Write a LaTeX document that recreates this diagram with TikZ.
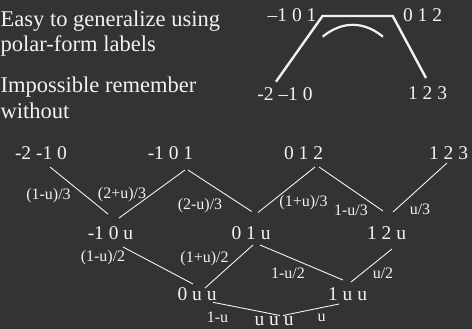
\documentclass[tikz,border=0pt]{standalone}
\usepackage{fontspec}
\setmainfont{Liberation Serif}
\usetikzlibrary{calc}
\definecolor{slidebg}{HTML}{333333}
\definecolor{slidefg}{HTML}{F2F2F2}

\begin{document}
\begin{tikzpicture}[x=1pt,y=-1pt,
  every node/.style={text=slidefg,inner sep=0pt},
  bullet/.style={anchor=base west,font=\fontsize{22.5}{25}\selectfont},
  ptlabel/.style={anchor=base,font=\fontsize{19.5}{22}\selectfont},
  wtlabel/.style={anchor=base,font=\fontsize{16}{18}\selectfont},
  branch/.style={draw=slidefg,line width=0.9pt},
  poly/.style={draw=slidefg,line width=2.4pt}]
  \path[use as bounding box,fill=slidebg] (0,0) rectangle (472,329);

  % Bullet text
  \node[bullet] (t1) at (0.5,26.7) {Easy to generalize using};
  \node[bullet] (t2) at (0.5,51.7) {polar-form labels};
  \node[bullet] (t3) at (0.5,93) {Impossible remember};
  \node[bullet] (t4) at (0.5,118) {without};

  % Polar-form sketch
  \node[ptlabel] (q101) at (292,22) {\textendash1 0 1};
  \node[ptlabel] (q012) at (422.5,22) {0 1 2};
  \node[ptlabel] (q210) at (285,100.5) {-2 \textendash1 0};
  \node[ptlabel] (q123) at (427.5,100) {1 2 3};
  \coordinate (c0) at (276,81.7);
  \coordinate (c1) at (322.5,16);
  \coordinate (c2) at (392.7,16);
  \coordinate (c3) at (426,78);
  \draw[poly,line join=miter] (c0) -- (c1) -- (c2) -- (c3);
  \draw[poly,line width=2.2pt] (322.7,36.7) .. controls (338,24) and (360,18) .. (383,36.7);

  % Level 0
  \node[ptlabel] (p210) at (41,160) {-2 -1 0};
  \node[ptlabel] (p101) at (170.5,160) {-1 0 1};
  \node[ptlabel] (p012) at (303.5,160) {0 1 2};
  \node[ptlabel] (p123) at (448.5,160) {1 2 3};

  % Level 1
  \node[ptlabel] (p10u) at (110.5,240) {-1 0 u};
  \node[ptlabel] (p01u) at (251,239.5) {0 1 u};
  \node[ptlabel] (p12u) at (386.5,240) {1 2 u};
  \draw[branch] ($(p210.base)+(9,7)$) -- ($(p10u.base)+(-2.5,-26)$);
  \draw[branch] ($(p101.base)+(14.5,10)$) -- ($(p10u.base)+(8.5,-22)$);
  \draw[branch] ($(p101.base)+(17.5,10)$) -- ($(p01u.base)+(0.7,-28)$);
  \draw[branch] ($(p012.base)+(11.5,7)$) -- ($(p01u.base)+(7,-27)$);
  \draw[branch] ($(p012.base)+(15.5,7)$) -- ($(p12u.base)+(-3.5,-29)$);
  \draw[branch] ($(p123.base)+(-1.5,3)$) -- ($(p12u.base)+(6.5,-28)$);
  \node[wtlabel] (w1) at (48.5,199.3) {(1-u)/3};
  \node[wtlabel] (w2) at (122,198.5) {(2+u)/3};
  \node[wtlabel] (w3) at (200,209) {(2-u)/3};
  \node[wtlabel] (w4) at (303.5,206) {(1+u)/3};
  \node[wtlabel] (w5) at (351,215) {1-u/3};
  \node[wtlabel] (w6) at (420,214.7) {u/3};

  % Level 2
  \node[ptlabel] (p0uu) at (197,300) {0 u u};
  \node[ptlabel] (p1uu) at (347.5,300) {1 u u};
  \draw[branch] ($(p10u.base)+(12.5,7)$) -- ($(p0uu.base)+(-4,-16)$);
  \draw[branch] ($(p01u.base)+(2,5.5)$) -- ($(p0uu.base)+(8,-12)$);
  \draw[branch] ($(p01u.base)+(9,5.5)$) -- ($(p1uu.base)+(-4.5,-20)$);
  \draw[branch] ($(p12u.base)+(5.5,9)$) -- ($(p1uu.base)+(3.5,-18)$);
  \node[wtlabel] (w7) at (103,261.7) {(1-u)/2};
  \node[wtlabel] (w8) at (204.5,262) {(1+u)/2};
  \node[wtlabel] (w9) at (288,278) {1-u/2};
  \node[wtlabel] (w10) at (383,278) {u/2};

  % Level 3
  \node[ptlabel] (puuu) at (274,325.5) {u u u};
  \draw[branch] ($(p0uu.base)+(16,2.3)$) -- ($(puuu.base)+(6,-10)$);
  \draw[branch] ($(p1uu.base)+(-8.5,4)$) -- ($(puuu.base)+(9,-10)$);
  \node[wtlabel] (w11) at (217.5,322.7) {1-u};
  \node[wtlabel] (w12) at (321.5,321.7) {u};
\end{tikzpicture}
\end{document}
